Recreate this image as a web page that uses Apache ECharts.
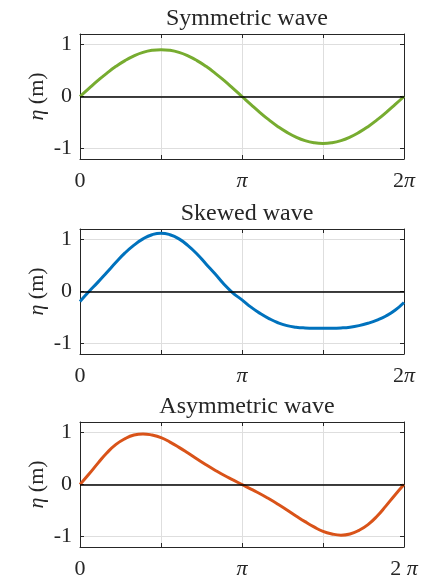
<!DOCTYPE html>
<html>
<head>
<meta charset="utf-8">
<script src="https://cdn.jsdelivr.net/npm/echarts@6/dist/echarts.min.js"></script>
<style>html,body{margin:0;padding:0;background:#fff}#c{width:422px;height:580px}</style>
</head>
<body>
<div id="c"></div>
<script>
// phase in degrees (0 .. 2π)
const phaseDeg = [0,10,20,30,40,50,60,70,80,90,100,110,120,130,140,150,160,170,180,190,200,210,220,230,240,250,260,270,280,290,300,310,320,330,340,350,360];
const symmetricWave = [0,0.156,0.308,0.45,0.579,0.689,0.779,0.846,0.886,0.9,0.886,0.846,0.779,0.689,0.579,0.45,0.308,0.156,0,-0.156,-0.308,-0.45,-0.579,-0.689,-0.779,-0.846,-0.886,-0.9,-0.886,-0.846,-0.779,-0.689,-0.579,-0.45,-0.308,-0.156,0];
const skewedWave = [-0.19,0.0,0.18,0.37,0.56,0.74,0.89,1.01,1.09,1.12,1.09,1.01,0.88,0.72,0.53,0.34,0.14,-0.03,-0.16,-0.3,-0.42,-0.52,-0.6,-0.655,-0.685,-0.7,-0.705,-0.705,-0.705,-0.7,-0.685,-0.655,-0.61,-0.55,-0.47,-0.36,-0.21];
const asymmetricWave = [0,0.2,0.41,0.61,0.77,0.88,0.95,0.972,0.95,0.9,0.814,0.713,0.603,0.489,0.379,0.275,0.177,0.088,0,-0.088,-0.177,-0.275,-0.379,-0.489,-0.603,-0.713,-0.814,-0.9,-0.95,-0.972,-0.95,-0.88,-0.77,-0.61,-0.41,-0.2,0];
const titles = ['Symmetric wave','Skewed wave','Asymmetric wave'];
const colors = ['#77AC30','#0072BD','#D95319'];
const xTickValues = [0,90,180,270,360];
const xTickLabelSets = [['0','','π','','2π'],['0','','π','','2π'],['0','','π','','2 π']];
const yTickValues = [-1,0,1];
const yTickLabels = ['-1','0','1'];

const waves = [symmetricWave, skewedWave, asymmetricWave];
const font = 'Liberation Serif';
const tops = [34,229,422];
const H = 125;
const axisColor = '#262626';
const gridColor = '#dedede';
const textColor = '#262626';

const grid = [], xAxis = [], yAxis = [], series = [], title = [];
for (let i = 0; i < 3; i++) {
  grid.push({left:80, right:18, top:tops[i], height:H});
  title.push({text:titles[i], left:242, textAlign:'center', top:tops[i]-32,
    textStyle:{fontFamily:font, fontSize:24, fontWeight:'normal', color:textColor}});
  const labels = xTickLabelSets[i];
  xAxis.push({type:'value', gridIndex:i, min:0, max:360, interval:90, position:'bottom',
    axisLine:{show:true, onZero:false, lineStyle:{color:axisColor, width:1}},
    axisTick:{show:true, inside:true, length:4, lineStyle:{color:axisColor}},
    splitLine:{show:true, lineStyle:{color:gridColor, width:1}},
    axisLabel:{margin:11, fontFamily:font, fontSize:22, color:textColor,
      formatter:function(v){const k=xTickValues.indexOf(v); if(k<0) return ''; const s=labels[k]; return s.replace('π','{i|π}');},
      rich:{i:{fontFamily:font, fontStyle:'italic', fontSize:22, color:textColor}}}
  });
  yAxis.push({type:'value', gridIndex:i, min:-1.2, max:1.2, position:'left',
    name:'{i|η} (m)', nameLocation:'middle', nameGap:32, nameRotate:90, nameMoveOverlap:false,
    nameTextStyle:{fontFamily:font, fontSize:22, color:textColor,
      rich:{i:{fontFamily:font, fontStyle:'italic', fontSize:22, color:textColor}}},
    axisLine:{show:true, onZero:false, lineStyle:{color:axisColor, width:1}},
    axisTick:{show:true, inside:true, length:4, customValues:yTickValues, lineStyle:{color:axisColor}},
    splitLine:{show:true, lineStyle:{color:gridColor, width:1}},
    axisLabel:{margin:8, fontFamily:font, fontSize:22, color:textColor, customValues:yTickValues,
      formatter:function(v){const k=yTickValues.indexOf(v); return k<0?'':yTickLabels[k];}}
  });
  series.push({type:'line', xAxisIndex:i, yAxisIndex:i, smooth:true, showSymbol:false,
    data: phaseDeg.map((d,j)=>[d, waves[i][j]]),
    lineStyle:{color:colors[i], width:3}, z:3,
    markLine:{silent:true, symbol:'none', label:{show:false},
      lineStyle:{color:'#000', width:1.5, type:'solid'}, data:[{yAxis:0}]}
  });
}
for (let i = 0; i < 3; i++) {
  xAxis.push({type:'value', gridIndex:i, min:0, max:360, interval:90, position:'top',
    axisLine:{show:true, onZero:false, lineStyle:{color:axisColor, width:1}},
    axisTick:{show:true, inside:true, length:4, lineStyle:{color:axisColor}},
    splitLine:{show:false}, axisLabel:{show:false}});
  yAxis.push({type:'value', gridIndex:i, min:-1.2, max:1.2, position:'right',
    axisLine:{show:true, onZero:false, lineStyle:{color:axisColor, width:1}},
    axisTick:{show:true, inside:true, length:4, customValues:yTickValues, lineStyle:{color:axisColor}},
    splitLine:{show:false}, axisLabel:{show:false}});
}
const chart = echarts.init(document.getElementById('c'), null, {renderer:'canvas'});
chart.setOption({animation:false, backgroundColor:'#fff', title, grid, xAxis, yAxis, series});
</script>
</body>
</html>
